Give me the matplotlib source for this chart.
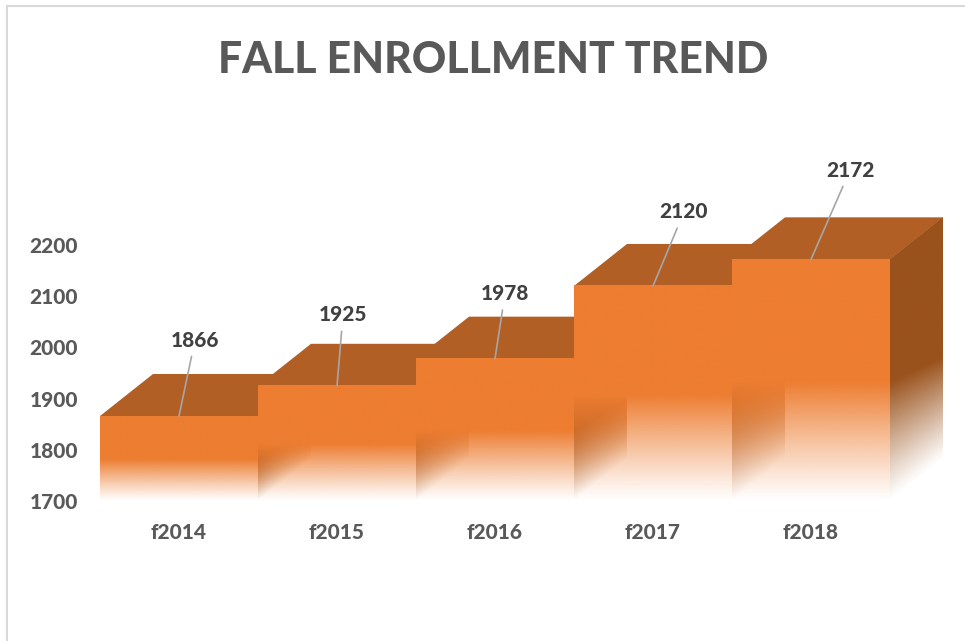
# fall enrollment stepped 3d look, faces drawn by hand with fading gradients
import numpy as np
import matplotlib
matplotlib.use("Agg")
import matplotlib.pyplot as plt
from matplotlib.colors import to_rgb
from matplotlib.patches import Polygon
from matplotlib.transforms import Affine2D
from matplotlib.lines import Line2D

years = ["f2014", "f2015", "f2016", "f2017", "f2018"]
enrollment = [1866, 1925, 1978, 2120, 2172]
y_ticks = [1700, 1800, 1900, 2000, 2100, 2200]

# label position relative to top of bar, in pixels
label_offsets = [(16, 76), (6, 71), (10, 65), (31, 74), (39, 89)]

FRONT = "#ED7D31"
TOP = "#B25F25"
SIDE = "#9A521C"
TEXT = "#595959"
BASE = 1700
SCALE = 0.512
DEPTH_X = 53 / 158
DEPTH_Y = 42 / SCALE
FADE = 0.49
FADE_FAR = 0.42

plt.rcParams["font.family"] = ["Lato", "DejaVu Sans"]
plt.rcParams["font.weight"] = 900

fig = plt.figure(figsize=(9.65, 6.41), dpi=100)
ax = fig.add_axes([100 / 965, (641 - 501) / 641, 850 / 965, 401 / 641])


def fade_face(x0, x1, value, color, zorder, slope=0.0, far=FADE):
    # vertical fade from solid color to clear, sheared when slope is set
    rows = np.linspace(0, 1, 300)[:, None]
    cols = np.linspace(FADE, far, 60)[None, :]
    alpha = np.clip(rows / cols, 0, 1) ** 1.1
    img = np.zeros((300, 60, 4))
    img[..., :3] = to_rgb(color)
    img[..., 3] = alpha
    im = ax.imshow(img, origin="lower", extent=(x0, x1, BASE, value),
                   aspect="auto", interpolation="bilinear", zorder=zorder)
    shear = Affine2D.from_values(1, slope, 0, 1, 0, -slope * x0)
    im.set_transform(shear + ax.transData)
    return im


z = 1
for i, v in enumerate(enrollment):
    top = Polygon([(i, v), (i + 1, v), (i + 1 + DEPTH_X, v + DEPTH_Y), (i + DEPTH_X, v + DEPTH_Y)],
                  closed=True, facecolor=TOP, edgecolor="none", zorder=z)
    ax.add_patch(top)
    fade_face(i + 1, i + 1 + DEPTH_X, v, SIDE, z + 1, slope=DEPTH_Y / DEPTH_X, far=FADE_FAR)
    fade_face(i, i + 1, v, FRONT, z + 2)
    z += 3

for i, v in enumerate(enrollment):
    ax.annotate(str(v), xy=(i + 0.5, v), xytext=label_offsets[i], textcoords="offset pixels",
                ha="center", va="center", fontsize=15, fontweight=900, color="#404040",
                arrowprops=dict(arrowstyle="-", color="#A6A6A6", lw=1.2, shrinkA=3, shrinkB=0),
                zorder=50)

ax.set_xlim(0, 850 / 158)
ax.set_ylim(BASE, BASE + 401 / SCALE)
ax.set_xticks(np.arange(len(years)) + 0.5)
ax.set_xticklabels(years)
ax.set_yticks(y_ticks)
ax.tick_params(axis="x", length=0, pad=16, labelsize=15, labelcolor=TEXT)
ax.tick_params(axis="y", length=0, pad=16, labelsize=15, labelcolor=TEXT)
for s in ax.spines.values():
    s.set_visible(False)
ax.patch.set_alpha(0)

fig.text(493 / 965, 1 - 60 / 641, "FALL ENROLLMENT TREND", ha="center", va="center",
         fontsize=30.7, fontweight=900, color=TEXT)

# chart frame, only left and top show in the screenshot
fig.add_artist(Line2D([7 / 965, 7 / 965], [0, 1 - 6 / 641], color="#D9D9D9", lw=1.5))
fig.add_artist(Line2D([7 / 965, 1], [1 - 6 / 641, 1 - 6 / 641], color="#D9D9D9", lw=1.5))

fig.savefig("out.png", dpi=100)
